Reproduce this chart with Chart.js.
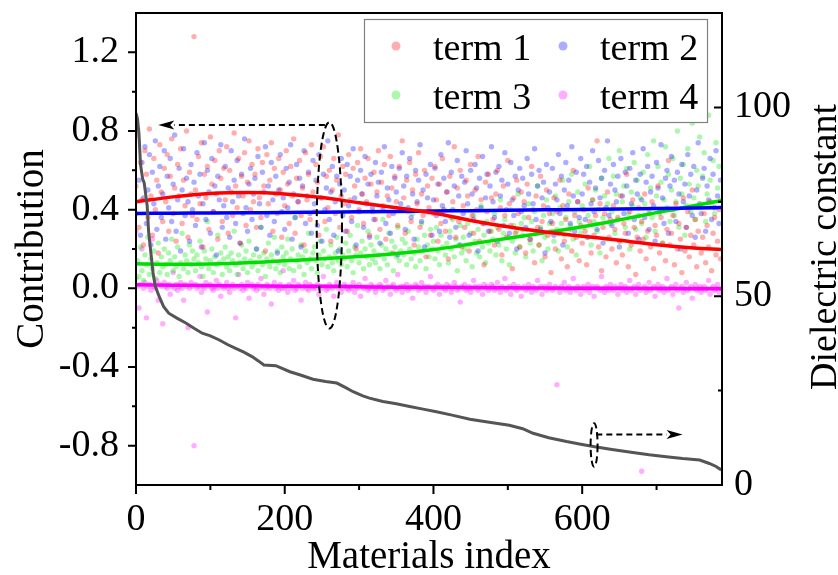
<!DOCTYPE html>
<html>
<head>
<meta charset="utf-8">
<title>Contribution of each term vs materials index</title>
<script src="https://cdn.jsdelivr.net/npm/chart.js@4.4.0/dist/chart.umd.min.js"></script>
<style>
  html, body { margin: 0; padding: 0; background: #fff; }
</style>
</head>
<body>
<canvas id="chart" width="838" height="575"></canvas>
<script>
// one scatter value every SAMPLE_STEP materials
const SAMPLE_STEP = 2;
const X_MAX = 788;

const SERIES_LABELS = ['term 1', 'term 2', 'term 3', 'term 4'];

// scatter contributions, in units of 0.01
const TERM1 = [
  52, 78, 31, 64, 45, 22, 70, 58, 36, 81, 47, 27, 66, 40, 55, 18, 73, 49, 34, 61,
  44, 68, 29, 57, 76, 38, 51, 24, 63, 47, 71, 33, 55, 42, 80, 26, 59, 48, 37, 128,
  50, 35, 67, 43, 74, 21, 58, 46, 62, 30, 77, 53, 39, 65, 48, 25, 70, 56, 34, 61,
  45, 72, 28, 60, 49, 37, 79, 52, 41, 66, 23, 57, 47, 69, 32, 54, 75, 40, 63, 44,
  58, 31, 71, 46, 36, 64, 52, 19, 68, 43, 55, 74, 29, 61, 48, 38, 66, 50, 26, 59,
  42, 70, 53, 33, 62, 47, 76, 28, 56, 44, 65, 37, 51, 22, 69, 45, 58, 35, 73, 49,
  39, 63, 54, 27, 67, 46, 72, 34, 57, 41, 60, 24, 50, 66, 38, 55, 78, 31, 47, 62,
  43, 58, 29, 68, 45, 36, 61, 52, 20, 64, 40, 71, 48, 33, 56, 44, 66, 27, 53, 39,
  59, 35, 49, 70, 30, 54, 42, 63, 25, 47, 37, 67, 51, 18, 57, 44, 32, 62, 40, 75,
  46, 28, 55, 39, 64, 34, 50, 22, 58, 43, 69, 31, 48, 37, 60, 16, 52, 41, 27, 56,
  38, 62, 45, 24, 53, 33, 66, 40, 29, 49, 15, 57, 36, 44, 72, 26, 51, 34, 60, 21,
  42, 31, 55, 47, 19, 63, 37, 28, 50, 40, 67, 24, 45, 33, 12, 54, 39, 58, 29, 46,
  35, 22, 48, 60, 30, 41, 17, 52, 37, 26, 65, 43, 32, 10, 46, 28, 55, 38, 21, 49,
  30, 44, 18, 53, 36, 25, 62, 40, 13, 47, 31, 22, 57, 34, 42, 16, 50, 27, 38, 8,
  33, 46, 20, 39, 28, 55, 15, 42, 24, 35, 11, 48, 30, 19, 60, 37, 26, 44, 14, 32,
  23, 40, 29, 12, 51, 34, 18, 45, 27, 37, 75, 21, 43, 9, 31, 38, 16, 49, 26, 35,
  20, 42, 30, 13, 36, 24, 47, 17, 33, 28, 58, 11, 39, 22, 45, 31, 7, 26, 41, 19,
  34, 25, 48, 15, 29, 38, 21, 44, 10, 32, 27, 52, 18, 36, 23, 40, 14, 30, 65, 22,
  28, 37, 12, 43, 20, 33, 25, 8, 46, 19, 31, 39, 16, 27, 50, 22, 35, 11, 29, 42,
  18, 26, 38, 13, 32, 21, 44, 9, 28, 36, 17, 24, 40, 15
];
const TERM2 = [
  38, 81, 55, 27, 64, 46, 72, 33, 50, 68, 22, 59, 43, 75, 30, 52, 62, 36, 48, 70,
  25, 57, 41, 66, 34, 53, 78, 29, 45, 61, 19, 50, 71, 37, 56, 44, 24, 63, 40, 54,
  32, 69, 47, 58, 21, 43, 74, 35, 60, 49, 28, 66, 39, 52, 17, 57, 45, 73, 31, 42,
  62, 36, 51, 26, 70, 44, 55, 33, 65, 47, 23, 58, 38, 76, 41, 29, 53, 61, 35, 48,
  56, 20, 67, 43, 31, 59, 49, 72, 37, 52, 27, 64, 45, 34, 57, 18, 50, 68, 39, 46,
  30, 61, 41, 54, 73, 25, 48, 36, 63, 44, 56, 21, 52, 70, 33, 47, 59, 38, 28, 65,
  43, 55, 32, 68, 46, 24, 58, 40, 51, 75, 35, 49, 62, 27, 44, 57, 19, 53, 66, 37,
  50, 29, 63, 42, 57, 34, 71, 46, 22, 55, 39, 60, 48, 31, 67, 43, 53, 26, 58, 41,
  35, 64, 47, 54, 23, 59, 40, 72, 33, 51, 45, 28, 62, 38, 56, 49, 17, 61, 43, 69,
  52, 30, 57, 41, 66, 36, 48, 25, 60, 44, 55, 73, 34, 50, 21, 58, 46, 39, 63, 27,
  45, 61, 37, 53, 29, 68, 42, 56, 34, 49, 74, 26, 59, 40, 52, 31, 65, 47, 22, 57,
  38, 54, 70, 43, 27, 60, 48, 35, 63, 51, 19, 56, 41, 67, 33, 46, 58, 29, 52, 72,
  44, 36, 59, 24, 62, 47, 55, 32, 69, 40, 53, 28, 64, 45, 37, 57, 20, 50, 61, 39,
  56, 42, 31, 66, 48, 25, 58, 43, 71, 35, 52, 60, 30, 46, 54, 18, 63, 41, 49, 34,
  61, 27, 53, 45, 68, 38, 57, 22, 50, 64, 42, 55, 33, 72, 47, 29, 59, 44, 36, 66,
  48, 58, 35, 62, 26, 54, 43, 70, 39, 51, 30, 65, 46, 56, 23, 60, 41, 75, 37, 53,
  32, 63, 50, 44, 57, 21, 66, 47, 38, 59, 52, 28, 61, 43, 69, 35, 55, 48, 25, 58,
  45, 71, 36, 54, 62, 30, 49, 57, 42, 24, 64, 51, 39, 73, 46, 33, 56, 60, 28, 52,
  67, 40, 55, 34, 59, 48, 20, 63, 44, 53, 31, 68, 47, 58, 37, 62, 26, 50, 74, 43,
  38, 56, 61, 29, 52, 45, 66, 35, 58, 41, 70, 47, 33, 55
];
const TERM3 = [
  5, 14, 6, 21, 9, 4, 17, 12, 26, 7, 15, 10, 19, 5, 13, 23, 8, 16, 11, 20,
  12, 7, 18, 14, 25, 9, 16, 11, 21, 6, 13, 28, 10, 17, 14, 8, 22, 12, 19, 15,
  9, 17, 13, 24, 11, 6, 19, 15, 34, 10, 14, 20, 8, 16, 12, 27, 13, 18, 7, 15,
  21, 11, 16, 9, 18, 14, 29, 12, 7, 17, 13, 22, 10, 15, 19, 8, 24, 14, 11, 17,
  13, 20, 9, 16, 31, 12, 18, 6, 15, 23, 11, 17, 14, 26, 10, 19, 13, 8, 21, 16,
  12, 18, 25, 10, 15, 20, 9, 36, 14, 17, 11, 22, 16, 7, 19, 13, 28, 15, 10, 18,
  21, 14, 8, 17, 24, 12, 19, 15, 30, 11, 16, 22, 13, 9, 18, 26, 14, 20, 12, 17,
  15, 23, 11, 19, 27, 14, 8, 21, 17, 32, 13, 18, 24, 10, 20, 16, 29, 12, 22, 15,
  19, 13, 26, 17, 10, 22, 35, 15, 20, 12, 28, 18, 24, 9, 21, 16, 31, 14, 19, 25,
  17, 23, 12, 29, 20, 15, 38, 18, 11, 25, 21, 14, 33, 19, 27, 10, 22, 16, 30, 20,
  24, 15, 31, 19, 12, 27, 21, 40, 17, 23, 13, 29, 20, 35, 16, 25, 9, 22, 32, 18,
  26, 20, 14, 33, 22, 28, 11, 37, 24, 18, 30, 16, 42, 21, 27, 13, 34, 23, 19, 29,
  25, 38, 17, 31, 22, 45, 14, 28, 35, 20, 26, 12, 40, 24, 32, 18, 29, 48, 21, 33,
  27, 36, 16, 30, 43, 23, 34, 19, 39, 28, 52, 22, 31, 14, 37, 26, 45, 20, 33, 29,
  38, 24, 47, 30, 19, 41, 33, 55, 27, 36, 21, 44, 32, 58, 25, 39, 17, 49, 34, 28,
  42, 31, 53, 26, 37, 62, 22, 45, 34, 50, 29, 40, 18, 56, 36, 47, 25, 43, 66, 33,
  39, 57, 28, 48, 35, 70, 24, 44, 52, 31, 61, 38, 20, 49, 42, 64, 30, 55, 37, 46,
  33, 59, 43, 26, 68, 40, 51, 36, 75, 29, 47, 62, 38, 54, 23, 45, 72, 41, 58, 34,
  50, 66, 37, 44, 80, 31, 56, 48, 63, 27, 42, 71, 53, 39, 84, 46, 35, 60, 52, 77,
  41, 57, 69, 34, 48, 88, 55, 43, 65, 38, 74, 51, 62, 45
];
const TERM4 = [
  29, 1, -10, 2, 20, 0, 3, -15, 1, 2, -1, 25, 1, 0, 4, -6, 2, 1, -18, 3,
  1, 0, 2, -3, 1, 8, 0, 2, -1, 1, 3, 0, -6, 2, 1, -20, 0, 3, 1, -80,
  2, 0, 1, 6, -2, 1, 0, 3, -12, 1, 2, 0, -1, 1, 4, 0, 2, -4, 1, 0,
  1, 3, 0, -2, 1, 2, 0, -15, 1, 7, 0, 2, -1, 1, 0, 3, -5, 1, 2, 0,
  1, -1, 2, 0, 5, 1, -3, 0, 2, 1, 0, -8, 1, 3, 0, 1, -1, 2, 0, 9,
  0, 1, -2, 2, 0, 1, 4, -1, 0, 2, 1, -6, 0, 1, 3, 0, -1, 2, 1, 0,
  1, 0, 2, -3, 1, 0, 6, 1, -1, 0, 2, 1, 0, -4, 1, 3, 0, 1, -2, 0,
  2, 1, 0, -1, 1, 0, 3, -2, 1, 0, 2, -4, 1, 0, 5, 1, -1, 0, 2, 1,
  0, -2, 1, 0, 2, 1, -1, 0, 4, 1, 0, -3, 1, 2, 0, -1, 7, 0, 1, -2,
  1, 0, 2, -1, 0, 1, -5, 0, 2, 1, -1, 0, 3, 0, 1, -2, 0, 1, 6, 0,
  -1, 1, 0, 2, -3, 0, 1, 0, -1, 2, 0, 1, -2, 0, 3, 1, -1, 0, -7, 1,
  0, 2, -1, 0, 1, -2, 0, 4, 1, 0, -1, 1, 0, -3, 2, 0, 1, -1, 0, 2,
  1, -1, 0, 3, 0, -2, 1, 0, 5, -1, 0, 1, -3, 0, 2, 0, -1, 1, 0, -4,
  0, 1, -1, 0, 2, 0, -2, 1, 0, -1, 4, 0, 1, -3, 0, 1, -1, 0, 2, 0,
  -1, 0, 1, -49, 0, -2, 1, 0, 3, -1, 0, 1, -2, 0, 5, 0, -1, 1, 0, -3,
  0, 1, -1, 0, 2, -2, 0, 1, -4, 0, 1, 0, -1, 6, 0, -2, 1, 0, -1, 2,
  0, -1, 1, 0, -3, 0, 2, -1, 0, 1, -2, 0, 4, -1, 0, 1, -3, 0, 2, -1,
  -93, 0, 1, -2, 0, 3, -1, 0, 1, -4, 0, 2, -1, 0, 1, -2, 0, 5, -1, 0,
  1, -3, 0, 2, -1, -10, 0, 1, -2, 0, 3, -1, 0, 1, -5, 0, 2, -1, 0, 1,
  -2, 0, 1, -1, 0, 4, -3, 0, 1, -1, 0, 2, -2, 0
];

// smooth trend of each term
const FIT_INDEX = [0, 50, 100, 150, 200, 250, 300, 350, 400, 450, 500, 550, 600, 650, 700, 750, 787];
const TERM1_FIT = [0.440, 0.465, 0.482, 0.487, 0.480, 0.462, 0.435, 0.410, 0.383, 0.345, 0.313, 0.287, 0.265, 0.245, 0.222, 0.205, 0.197];
const TERM2_FIT = [0.381, 0.382, 0.383, 0.384, 0.385, 0.387, 0.389, 0.391, 0.393, 0.395, 0.397, 0.399, 0.401, 0.404, 0.406, 0.409, 0.411];
const TERM3_FIT = [0.125, 0.122, 0.124, 0.130, 0.140, 0.150, 0.162, 0.177, 0.197, 0.225, 0.255, 0.283, 0.313, 0.348, 0.385, 0.420, 0.446];
const TERM4_FIT = [0.018, 0.016, 0.014, 0.013, 0.011, 0.010, 0.008, 0.006, 0.005, 0.004, 0.003, 0.002, 0.001, 0.000, -0.001, -0.002, -0.002];

// dielectric constant (right axis), sorted in decreasing order
const DIEL_INDEX = [0, 2, 4, 6, 9, 11, 15, 17, 20, 23, 26, 31, 37, 44, 55, 67, 78, 89, 100, 112,
  123, 134, 145, 156, 165, 172, 188, 207, 220, 238, 255, 270, 282, 292, 305, 314, 332, 350, 368, 386,
  404, 425, 449, 475, 502, 520, 534, 555, 579, 598, 615, 640, 668, 690, 713, 735, 758, 771, 780, 787];
const DIEL_VALUE = [98.5, 97, 93, 85, 81, 80, 74, 67, 61.5, 56, 52.6, 50, 47.3, 45.5, 44.2, 42.9, 41.5, 40.2, 39.5, 38.4,
  37.2, 36.2, 35.2, 34, 32.8, 31.8, 31.6, 30, 29.2, 28, 27.4, 27, 25.8, 24.7, 23.6, 23, 22.1, 21.5, 20.8, 20.1,
  19.4, 18.5, 17.4, 16.6, 15.8, 14.9, 13.7, 12.5, 11.5, 10.8, 10.2, 9.4, 8.6, 8.0, 7.5, 7.0, 6.6, 5.7, 4.9, 4.0];

// axes
const X_TICKS = [0, 200, 400, 600];
const X_MINOR = [100, 300, 500, 700];
const LEFT_TICKS = [-0.8, -0.4, 0, 0.4, 0.8, 1.2];
const LEFT_MINOR = [-0.6, -0.2, 0.2, 0.6, 1.0];
const RIGHT_TICKS = [0, 50, 100];
const RIGHT_MINOR = [25, 75];

// dashed ellipses + arrows telling which axis a curve belongs to (data units)
const LEFT_MARK = { idx: 260, y: 0.32, dIdx: 17, dY: 0.524 };
const LEFT_ARROW = { from: 254, to: 30, y: 0.83 };
const RIGHT_MARK = { idx: 616, y: 10.6, dIdx: 4.7, dY: 5.75 };
const RIGHT_ARROW = { from: 619, to: 735, y: 13.4 };

const DOT_COLORS = ['rgba(255,0,0,0.32)', 'rgba(0,0,255,0.32)', 'rgba(0,230,0,0.32)', 'rgba(255,0,255,0.32)'];
const LINE_COLORS = ['#ff0000', '#0000ff', '#00dd00', '#ff00ff'];
const FONT = '"Liberation Serif", "Times New Roman", serif';

const toPoints = arr => arr.map((v, i) => ({ x: i * SAMPLE_STEP, y: v / 100 }));
const fitPoints = arr => arr.map((v, i) => ({ x: FIT_INDEX[i], y: v }));

const datasets = [];
datasets.push({
  type: 'line', label: 'Dielectric constant', yAxisID: 'y2', order: 0,
  data: DIEL_INDEX.map((x, i) => ({ x, y: DIEL_VALUE[i] })),
  borderColor: '#555555', borderWidth: 3, pointRadius: 0, tension: 0
});
[TERM1_FIT, TERM2_FIT, TERM3_FIT, TERM4_FIT].forEach((f, k) => {
  datasets.push({
    type: 'line', label: SERIES_LABELS[k] + ' fit', yAxisID: 'y', order: 1,
    data: fitPoints(f), borderColor: LINE_COLORS[k], borderWidth: 3.5,
    pointRadius: 0, cubicInterpolationMode: 'monotone', isFit: true
  });
});
[TERM1, TERM2, TERM3, TERM4].forEach((t, k) => {
  datasets.push({
    type: 'scatter', label: SERIES_LABELS[k], yAxisID: 'y', order: 2,
    data: toPoints(t), backgroundColor: DOT_COLORS[k], borderWidth: 0,
    pointRadius: 2.7, isTerm: true
  });
});

function fixTicks(values) {
  return scale => { scale.ticks = values.map(v => ({ value: v })); };
}
function fixSize(prop, size) {
  return scale => {
    scale[prop] = size;
    scale.paddingTop = 0; scale.paddingBottom = 0;
    scale.paddingLeft = 0; scale.paddingRight = 0;
  };
}

function drawArrow(ctx, x0, y, x1) {
  const dir = Math.sign(x1 - x0), head = 16;
  ctx.setLineDash([6, 4]);
  ctx.beginPath();
  ctx.moveTo(x0, y);
  ctx.lineTo(x1 - dir * head, y);
  ctx.stroke();
  ctx.setLineDash([]);
  ctx.beginPath();
  ctx.moveTo(x1, y);
  ctx.lineTo(x1 - dir * head, y - 4.5);
  ctx.lineTo(x1 - dir * (head - 4), y);
  ctx.lineTo(x1 - dir * head, y + 4.5);
  ctx.closePath();
  ctx.fill();
}

function drawMark(ctx, xs, ys, m) {
  const cx = xs.getPixelForValue(m.idx), cy = ys.getPixelForValue(m.y);
  const rx = xs.getPixelForValue(m.idx + m.dIdx) - cx;
  const ry = cy - ys.getPixelForValue(m.y + m.dY);
  ctx.setLineDash([7, 4]);
  ctx.beginPath();
  ctx.ellipse(cx, cy, rx, ry, 0, 0, 2 * Math.PI);
  ctx.stroke();
}

const decor = {
  id: 'decor',
  afterDatasetsDraw(chart) {
    const { ctx, chartArea: a, scales } = chart;
    const xs = scales.x, yl = scales.y, yr = scales.y2;
    ctx.save();

    // annotations
    ctx.strokeStyle = '#000';
    ctx.fillStyle = '#000';
    ctx.lineWidth = 2;
    drawMark(ctx, xs, yl, LEFT_MARK);
    drawArrow(ctx, xs.getPixelForValue(LEFT_ARROW.from), yl.getPixelForValue(LEFT_ARROW.y), xs.getPixelForValue(LEFT_ARROW.to));
    drawMark(ctx, xs, yr, RIGHT_MARK);
    drawArrow(ctx, xs.getPixelForValue(RIGHT_ARROW.from), yr.getPixelForValue(RIGHT_ARROW.y), xs.getPixelForValue(RIGHT_ARROW.to));

    // legend, two columns
    const box = { left: 364, top: 19, right: 707, bottom: 122 };
    ctx.setLineDash([]);
    ctx.fillStyle = '#fff';
    ctx.fillRect(box.left, box.top, box.right - box.left, box.bottom - box.top);
    ctx.strokeStyle = '#808080';
    ctx.lineWidth = 1.2;
    ctx.strokeRect(box.left + 0.5, box.top + 0.5, box.right - box.left, box.bottom - box.top);
    const terms = chart.data.datasets.filter(d => d.isTerm);
    ctx.font = '38px ' + FONT;
    ctx.textBaseline = 'alphabetic';
    ctx.textAlign = 'left';
    terms.forEach((d, k) => {
      const col = k % 2, row = Math.floor(k / 2);
      const mx = 396 + col * 167, my = 46 + row * 49;
      ctx.fillStyle = d.backgroundColor;
      ctx.beginPath();
      ctx.arc(mx, my, 4.5, 0, 2 * Math.PI);
      ctx.fill();
      ctx.fillStyle = '#000';
      ctx.fillText(d.label, mx + 37, my + 14);
    });

    // frame
    ctx.strokeStyle = '#000';
    ctx.lineWidth = 2;
    ctx.strokeRect(a.left, a.top, a.right - a.left, a.bottom - a.top);

    // tick marks
    ctx.beginPath();
    X_TICKS.forEach(v => { const p = xs.getPixelForValue(v); ctx.moveTo(p, a.bottom); ctx.lineTo(p, a.bottom + 9); });
    X_MINOR.forEach(v => { const p = xs.getPixelForValue(v); ctx.moveTo(p, a.bottom); ctx.lineTo(p, a.bottom + 5); });
    LEFT_TICKS.forEach(v => { const p = yl.getPixelForValue(v); ctx.moveTo(a.left - 8, p); ctx.lineTo(a.left, p); });
    LEFT_MINOR.forEach(v => { const p = yl.getPixelForValue(v); ctx.moveTo(a.left - 4, p); ctx.lineTo(a.left, p); });
    RIGHT_TICKS.forEach(v => { const p = yr.getPixelForValue(v); ctx.moveTo(a.right - 8, p); ctx.lineTo(a.right, p); });
    RIGHT_MINOR.forEach(v => { const p = yr.getPixelForValue(v); ctx.moveTo(a.right - 4, p); ctx.lineTo(a.right, p); });
    ctx.stroke();

    // axis titles
    ctx.fillStyle = '#000';
    ctx.textAlign = 'center';
    ctx.font = '39px ' + FONT;
    ctx.fillText('Materials index', (a.left + a.right) / 2, 568);
    ctx.save();
    ctx.translate(43, (a.top + a.bottom) / 2);
    ctx.rotate(-Math.PI / 2);
    ctx.fillText('Contribution', 0, 0);
    ctx.restore();
    ctx.save();
    ctx.font = '38px ' + FONT;
    ctx.translate(836, (a.top + a.bottom) / 2 - 2);
    ctx.rotate(-Math.PI / 2);
    ctx.fillText('Dielectric constant', 0, 0);
    ctx.restore();

    ctx.restore();
  }
};

const tickFont = { family: FONT, size: 38 };

new Chart(document.getElementById('chart'), {
  type: 'scatter',
  data: { datasets },
  options: {
    responsive: false,
    devicePixelRatio: 1,
    animation: false,
    events: [],
    layout: { padding: { top: 13, left: 0, right: 0, bottom: 0 } },
    plugins: { legend: { display: false }, tooltip: { enabled: false } },
    scales: {
      x: {
        type: 'linear', min: 0, max: X_MAX,
        afterBuildTicks: fixTicks(X_TICKS),
        afterFit: fixSize('height', 90),
        grid: { display: false, drawTicks: false },
        border: { display: false },
        ticks: { font: tickFont, color: '#000', padding: 12, maxRotation: 0, callback: v => String(v) }
      },
      y: {
        type: 'linear', position: 'left', min: -1.0, max: 1.4,
        afterBuildTicks: fixTicks(LEFT_TICKS),
        afterFit: fixSize('width', 136),
        grid: { display: false, drawTicks: false },
        border: { display: false },
        ticks: { font: tickFont, color: '#000', padding: 17, callback: v => v.toFixed(1) }
      },
      y2: {
        type: 'linear', position: 'right', min: 0, max: 125,
        afterBuildTicks: fixTicks(RIGHT_TICKS),
        afterFit: fixSize('width', 116),
        grid: { display: false, drawTicks: false },
        border: { display: false },
        ticks: { font: tickFont, color: '#000', padding: 12, callback: v => String(v) }
      }
    }
  },
  plugins: [decor]
});
</script>
</body>
</html>
